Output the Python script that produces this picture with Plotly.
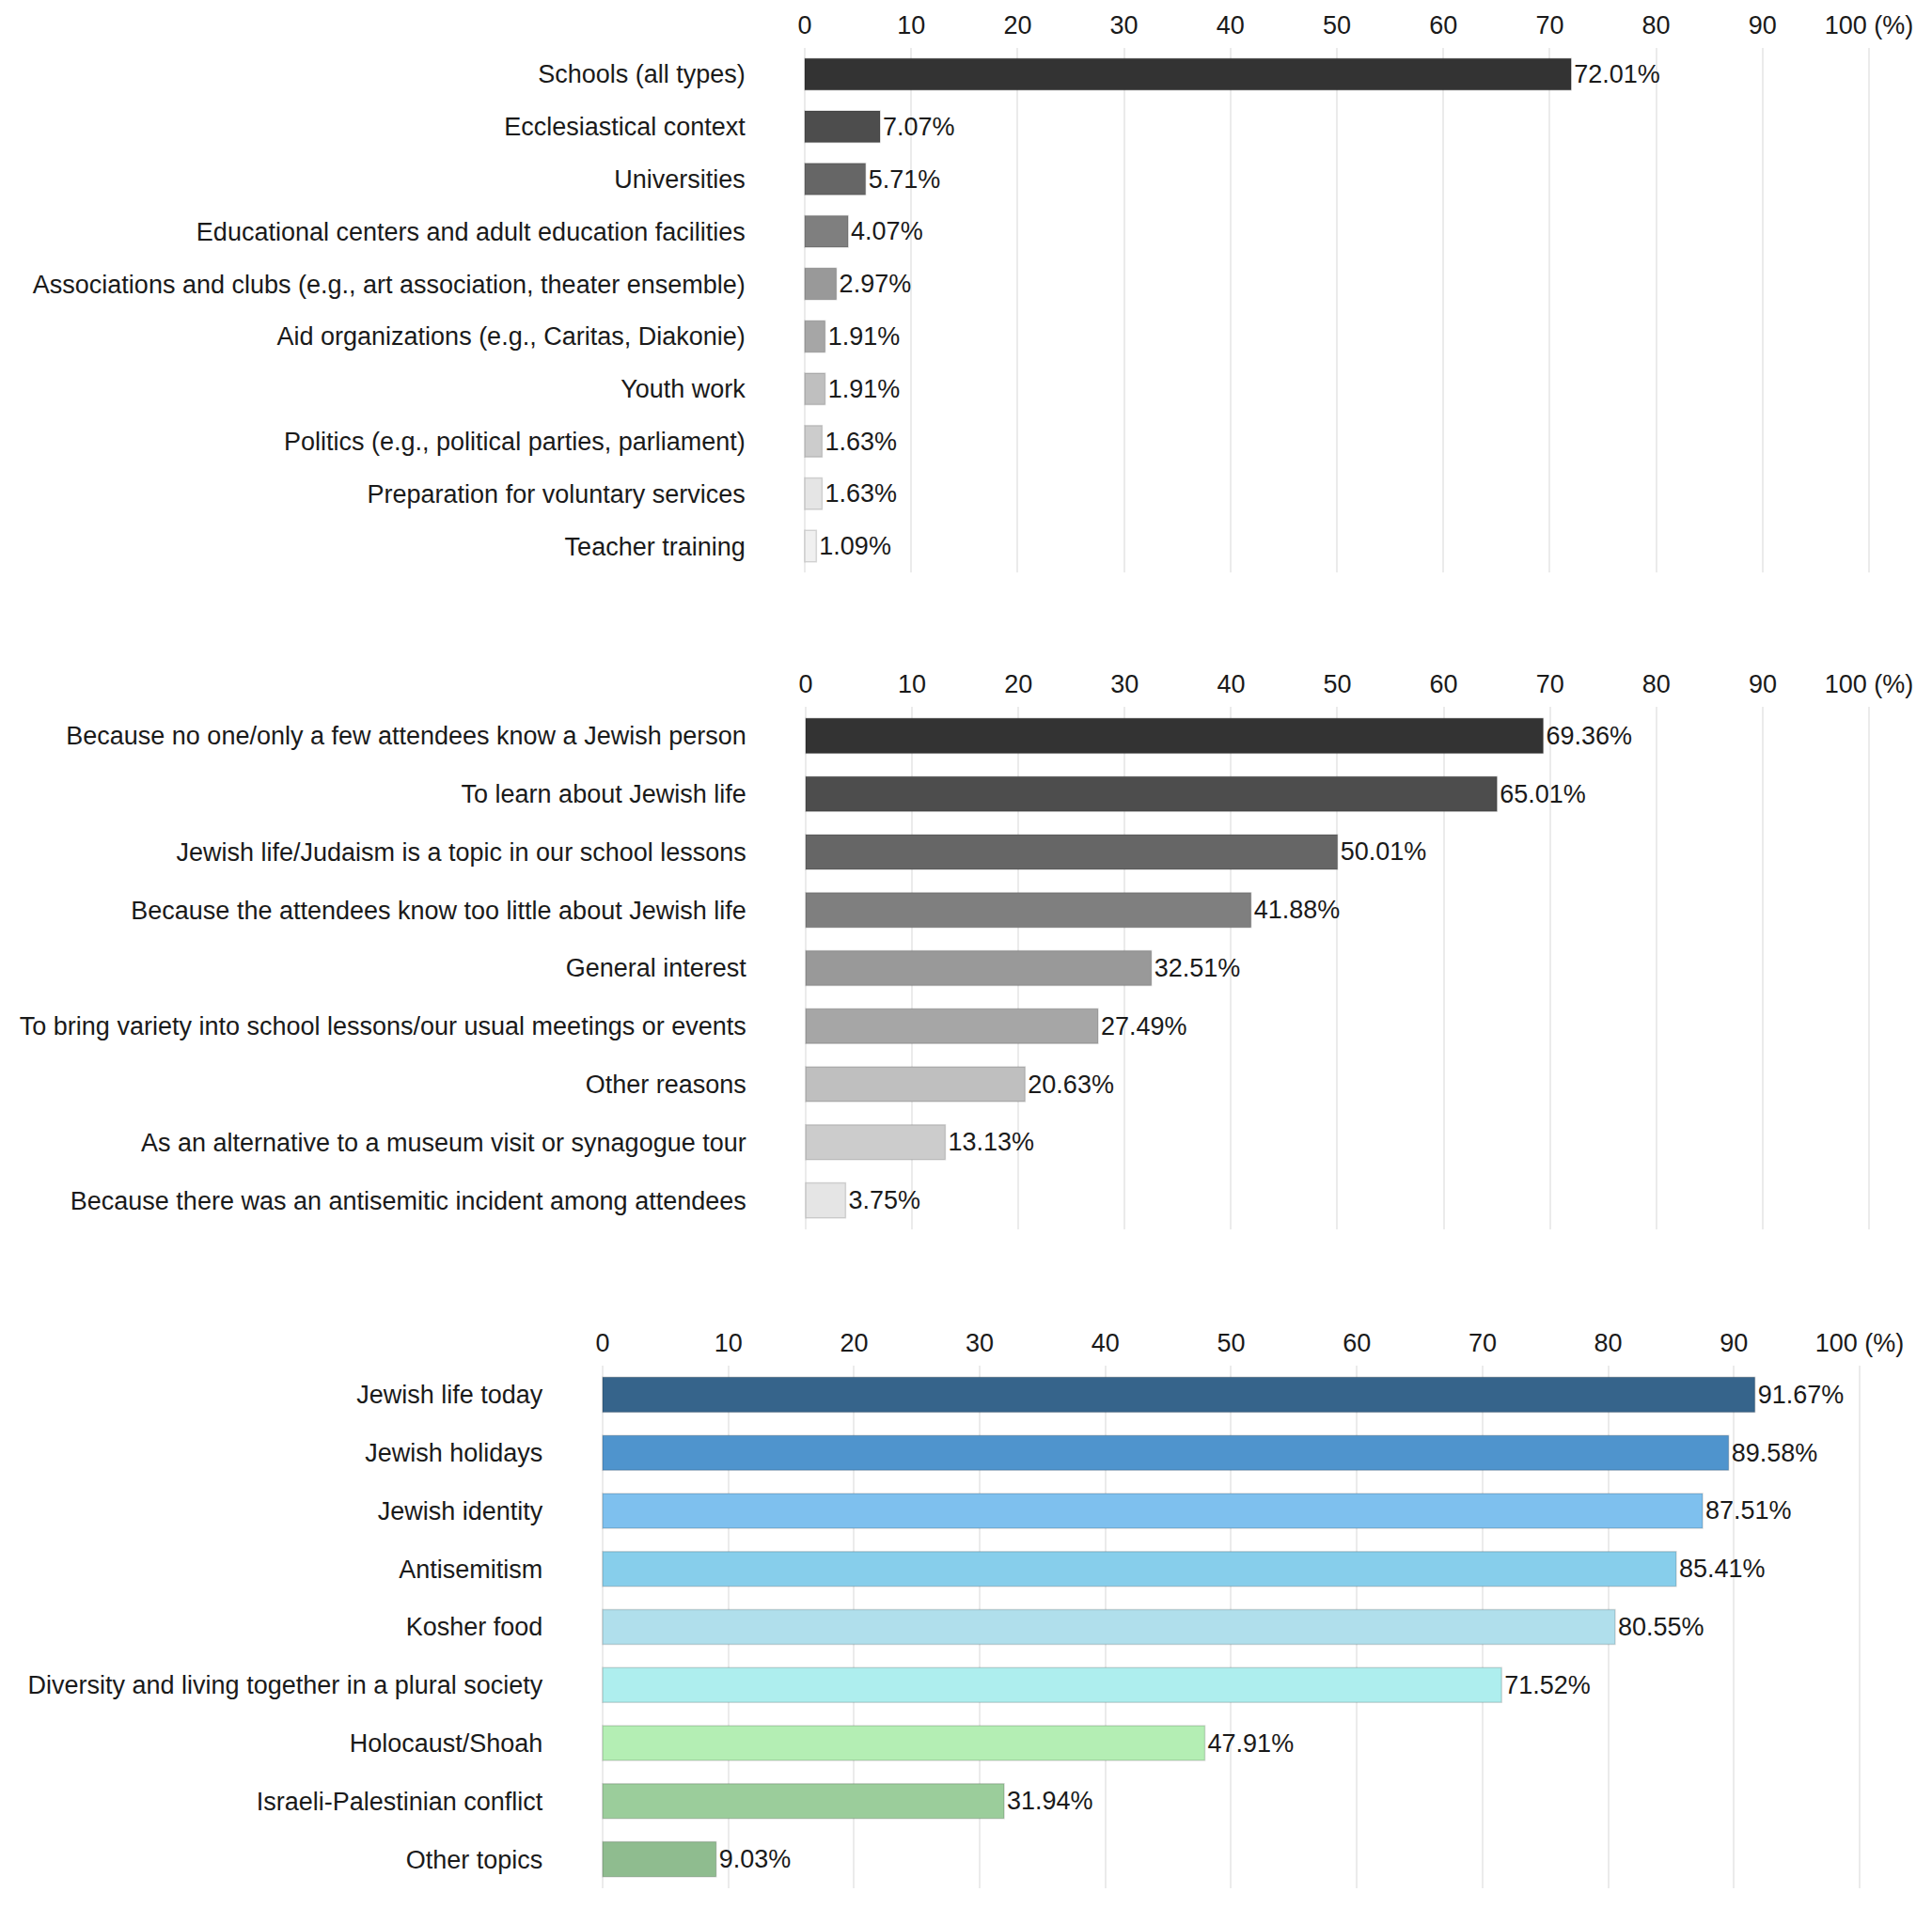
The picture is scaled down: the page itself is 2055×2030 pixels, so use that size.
import plotly.graph_objects as go

# panel 1: where the events took place
places = [
    "Schools (all types)",
    "Ecclesiastical context",
    "Universities",
    "Educational centers and adult education facilities",
    "Associations and clubs (e.g., art association, theater ensemble)",
    "Aid organizations (e.g., Caritas, Diakonie)",
    "Youth work",
    "Politics (e.g., political parties, parliament)",
    "Preparation for voluntary services",
    "Teacher training",
]
places_pct = [72.01, 7.07, 5.71, 4.07, 2.97, 1.91, 1.91, 1.63, 1.63, 1.09]
places_colors = ["#333333", "#4d4d4d", "#666666", "#7f7f7f", "#999999",
                 "#a6a6a6", "#bfbfbf", "#cccccc", "#e5e5e5", "#f0f0f0"]

# panel 2: reasons
reasons = [
    "Because no one/only a few attendees know a Jewish person",
    "To learn about Jewish life",
    "Jewish life/Judaism is a topic in our school lessons",
    "Because the attendees know too little about Jewish life",
    "General interest",
    "To bring variety into school lessons/our usual meetings or events",
    "Other reasons",
    "As an alternative to a museum visit or synagogue tour",
    "Because there was an antisemitic incident among attendees",
]
reasons_pct = [69.36, 65.01, 50.01, 41.88, 32.51, 27.49, 20.63, 13.13, 3.75]
reasons_colors = ["#333333", "#4d4d4d", "#666666", "#7f7f7f", "#999999",
                  "#a6a6a6", "#bfbfbf", "#cccccc", "#e5e5e5"]

# panel 3: topics
topics = [
    "Jewish life today",
    "Jewish holidays",
    "Jewish identity",
    "Antisemitism",
    "Kosher food",
    "Diversity and living together in a plural society",
    "Holocaust/Shoah",
    "Israeli-Palestinian conflict",
    "Other topics",
]
topics_pct = [91.67, 89.58, 87.51, 85.41, 80.55, 71.52, 47.91, 31.94, 9.03]
topics_colors = ["#36648b", "#4f94cd", "#7ec0ee", "#87ceeb", "#b0dfec",
                 "#aeeeee", "#b4eeb4", "#9bcd9b", "#8fbc8f"]

tick_vals = [0, 10, 20, 30, 40, 50, 60, 70, 80, 90, 100]
tick_text = ["0", "10", "20", "30", "40", "50", "60", "70", "80", "90", "100 (%)"]

# page has an 8px body margin, keep the figure inside the window
OFF = 8
W, H = 2055 - 2 * OFF, 2030 - 2 * OFF
FONT = "Arial, Liberation Sans, sans-serif"
TXT = "#1a1a1a"
PAD = 0.2  # a little slack so the 0 and 100 gridlines are drawn

# screen pixel boxes (x of 0 and 100) and (y top, y bottom)
panels = [
    (places, places_pct, places_colors, (856, 1988), (51, 609)),
    (reasons, reasons_pct, reasons_colors, (857, 1988), (752, 1308)),
    (topics, topics_pct, topics_colors, (641, 1978), (1453, 2009)),
]

fig = go.Figure()
for i, (cats, vals, cols, xpx, ypx) in enumerate(panels, start=1):
    sfx = "" if i == 1 else str(i)
    unit = (xpx[1] - xpx[0]) / 100
    x0 = xpx[0] - PAD * unit - OFF
    x1 = xpx[1] + PAD * unit - OFF
    y0 = ypx[0] - OFF
    y1 = ypx[1] - OFF
    fig.add_trace(
        go.Bar(
            x=vals,
            y=cats,
            orientation="h",
            width=0.6,
            marker=dict(color=cols, line=dict(color="rgba(0,0,0,0.14)", width=1.5)),
            text=[f"{v:.2f}%" for v in vals],
            textposition="outside",
            textfont=dict(size=27, color=TXT, family=FONT),
            constraintext="none",
            cliponaxis=False,
            xaxis="x" + sfx,
            yaxis="y" + sfx,
            showlegend=False,
            hoverinfo="skip",
        )
    )
    fig.update_layout(
        {
            "xaxis" + sfx: dict(
                domain=[x0 / W, x1 / W],
                anchor="y" + sfx,
                side="top",
                range=[-PAD, 100 + PAD],
                tickvals=tick_vals,
                ticktext=tick_text,
                showgrid=True,
                gridcolor="#ebebeb",
                gridwidth=1.5,
                zeroline=False,
                showline=False,
                ticks="",
                tickfont=dict(size=27, color=TXT, family=FONT),
                ticklabelstandoff=9,
                automargin=False,
                fixedrange=True,
            ),
            "yaxis" + sfx: dict(
                domain=[1 - y1 / H, 1 - y0 / H],
                anchor="x" + sfx,
                type="category",
                categoryorder="array",
                categoryarray=cats,
                autorange="reversed",
                showgrid=False,
                zeroline=False,
                showline=False,
                ticks="",
                tickfont=dict(size=27, color=TXT, family=FONT),
                ticklabelstandoff=60,
                automargin=False,
                fixedrange=True,
            ),
        }
    )

fig.update_layout(
    width=W,
    height=H,
    autosize=False,
    margin=dict(l=0, r=0, t=0, b=0, autoexpand=False),
    paper_bgcolor="white",
    plot_bgcolor="white",
    font=dict(family=FONT, color=TXT),
)

fig.write_html("out.html", config={"responsive": False})
